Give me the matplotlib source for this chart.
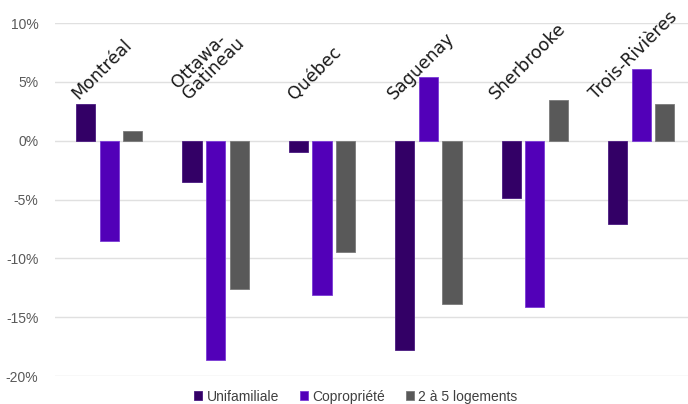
import numpy as np
import matplotlib.pyplot as plt

# villes et variations (%)
villes = ['Montréal', 'Ottawa-\nGatineau', 'Québec', 'Saguenay', 'Sherbrooke', 'Trois-Rivières']
unifamiliale = [3.1, -3.5, -0.95, -17.8, -4.85, -7.1]
copropriete = [-8.5, -18.6, -13.1, 5.4, -14.1, 6.1]
logements_2a5 = [0.85, -12.6, -9.45, -13.9, 3.5, 3.15]

series = ['Unifamiliale', 'Copropriété', '2 à 5 logements']
couleurs = ['#330066', '#5200b8', '#595959']
bords = ['#4a1a80', '#7a3ad6', '#7a7a7a']

fig = plt.figure(figsize=(6.88, 4.04), dpi=100)
ax = fig.add_axes([0.08, 0.069, 0.92, 0.874])

x = np.arange(len(villes))
w = 0.18
dx = 0.222
for i, (vals, c, e, lab) in enumerate(zip([unifamiliale, copropriete, logements_2a5], couleurs, bords, series)):
    ax.bar(x + (i - 1) * dx, vals, width=w, color=c, edgecolor=e, linewidth=0.6,
           label=lab, zorder=3)

ax.set_ylim(-20, 10)
ax.set_xlim(-0.51, 5.44)
ax.set_yticks(np.arange(-20, 11, 5))
ax.set_yticklabels([f'{v}%' for v in range(-20, 11, 5)], fontsize=10,
                   color='#595959', family='Liberation Sans')
ax.tick_params(axis='y', length=0, pad=12)
ax.set_xticks([])
ax.grid(axis='y', color='#e0e0e0', linewidth=1, zorder=0)
for s in ax.spines.values():
    s.set_visible(False)

# noms des villes en diagonale (boite centrée sur le groupe)
for xi, nom in zip(x, villes):
    ax.text(xi - 0.07, 3.2, nom, rotation=45,
            ha='center', va='bottom', fontsize=12.5, color='#1a1a1a',
            linespacing=0.8, multialignment='left')

fig.legend(loc='lower center', bbox_to_anchor=(0.517, -0.03), ncol=3, frameon=False,
           handlelength=0.6, handleheight=0.6, handletextpad=0.3, columnspacing=1.5,
           prop={'family': 'Liberation Sans', 'size': 10}, labelcolor='#404040')

fig.savefig('out.png', dpi=100)
